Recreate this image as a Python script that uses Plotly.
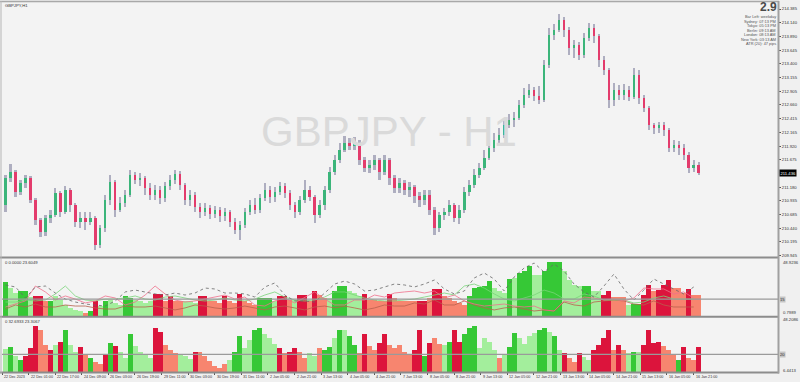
import plotly.graph_objects as go
from plotly.subplots import make_subplots

# ---------------- data (GBPJPY H1, 3-hour resampled) ----------------
opens = [210.86, 211.346, 211.454, 211.094, 211.256, 211.346, 210.95, 210.59, 210.374, 210.626,
         210.68, 211.076, 210.734, 211.13, 210.86, 210.554, 210.626, 210.554, 210.626, 210.14,
         210.446, 210.95, 211.274, 210.77, 210.896, 211.04, 211.4, 211.31, 211.346, 211.166,
         211.04, 211.13, 210.986, 211.202, 211.31, 211.418, 211.22, 210.95, 211.04, 210.824,
         210.734, 210.806, 210.698, 210.77, 210.662, 210.734, 210.554, 210.41, 210.5, 210.734,
         210.86, 210.77, 210.986, 211.13, 211.004, 211.094, 211.202, 211.076, 210.86, 210.734,
         210.95, 211.13, 211.004, 210.68, 210.86, 211.13, 211.454, 211.67, 211.85, 211.976,
         211.922, 211.976, 211.67, 211.526, 211.58, 211.67, 211.454, 211.67, 211.346, 211.166,
         211.256, 211.13, 211.184, 211.022, 210.95, 211.04, 210.77, 210.446, 210.68, 210.734,
         210.86, 210.626, 210.77, 211.094, 211.22, 211.4, 211.526, 211.706, 211.886, 212.03,
         212.12, 212.3, 212.39, 212.426, 212.66, 212.84, 212.93, 212.822, 212.75, 213.38,
         213.92, 214.01, 214.19, 214.01, 213.686, 213.74, 213.56, 213.866, 214.046, 213.902,
         213.47, 213.29, 212.75, 212.93, 212.84, 212.93, 212.804, 213.2, 212.786, 212.606,
         212.3, 212.246, 212.3, 212.21, 211.886, 211.94, 211.886, 211.76, 211.526, 211.58]
highs = [211.4, 211.598, 211.49, 211.31, 211.4, 211.382, 210.986, 210.626, 210.68, 210.77,
         211.166, 211.112, 211.202, 211.166, 210.896, 210.734, 210.734, 210.734, 210.662, 210.5,
         211.04, 211.4, 211.31, 211.004, 211.13, 211.49, 211.454, 211.436, 211.382, 211.256,
         211.22, 211.202, 211.274, 211.4, 211.49, 211.472, 211.256, 211.13, 211.094, 210.896,
         210.896, 210.86, 210.842, 210.824, 210.806, 210.77, 210.626, 210.572, 210.806, 210.95,
         210.986, 211.058, 211.256, 211.202, 211.184, 211.274, 211.256, 211.13, 210.914, 211.022,
         211.31, 211.202, 211.04, 210.95, 211.202, 211.544, 211.76, 211.976, 212.102, 212.066,
         212.084, 212.03, 211.724, 211.67, 211.76, 211.706, 211.76, 211.706, 211.4, 211.346,
         211.31, 211.274, 211.22, 211.094, 211.13, 211.13, 210.824, 210.734, 210.806, 210.95,
         210.896, 210.86, 211.184, 211.31, 211.508, 211.616, 211.85, 211.976, 212.156, 212.246,
         212.426, 212.498, 212.534, 212.75, 212.966, 213.038, 212.984, 213.002, 213.47, 214.046,
         214.118, 214.298, 214.244, 214.064, 213.83, 213.794, 213.956, 214.136, 214.118, 213.938,
         213.542, 213.326, 213.056, 213.02, 213.038, 213.002, 213.326, 213.29, 212.84, 212.642,
         212.336, 212.354, 212.354, 212.246, 212.03, 212.012, 211.958, 211.814, 211.67, 211.634]
lows = [210.734, 211.274, 211.004, 211.04, 211.166, 210.896, 210.5, 210.284, 210.302, 210.536,
        210.644, 210.644, 210.698, 210.734, 210.464, 210.446, 210.41, 210.5, 210.05, 210.086,
        210.374, 210.86, 210.644, 210.734, 210.824, 211.004, 211.238, 211.202, 211.04, 210.95,
        210.95, 210.878, 210.914, 211.13, 211.238, 211.13, 210.86, 210.842, 210.734, 210.626,
        210.662, 210.608, 210.626, 210.554, 210.572, 210.464, 210.338, 210.23, 210.446, 210.68,
        210.698, 210.716, 210.932, 210.896, 210.914, 211.04, 210.986, 210.77, 210.626, 210.68,
        210.896, 210.932, 210.536, 210.626, 210.77, 211.076, 211.4, 211.616, 211.814, 211.85,
        211.85, 211.58, 211.454, 211.436, 211.49, 211.31, 211.4, 211.22, 211.076, 211.076,
        211.04, 211.004, 210.896, 210.824, 210.86, 210.68, 210.32, 210.374, 210.59, 210.662,
        210.554, 210.518, 210.716, 211.022, 211.166, 211.346, 211.49, 211.67, 211.814, 211.94,
        212.066, 212.246, 212.264, 212.39, 212.606, 212.786, 212.732, 212.678, 212.714, 213.326,
        213.83, 213.974, 213.884, 213.56, 213.506, 213.47, 213.506, 213.812, 213.776, 213.344,
        213.2, 212.606, 212.642, 212.75, 212.75, 212.732, 212.768, 212.678, 212.534, 212.21,
        212.138, 212.156, 212.102, 211.814, 211.814, 211.76, 211.67, 211.436, 211.454, 211.4]
closes = [211.346, 211.454, 211.094, 211.256, 211.346, 210.95, 210.59, 210.374, 210.626, 210.68,
          211.076, 210.734, 211.13, 210.86, 210.554, 210.626, 210.554, 210.626, 210.14, 210.446,
          210.95, 211.274, 210.77, 210.896, 211.04, 211.4, 211.31, 211.346, 211.166, 211.04,
          211.13, 210.986, 211.202, 211.31, 211.418, 211.22, 210.95, 211.04, 210.824, 210.734,
          210.806, 210.698, 210.77, 210.662, 210.734, 210.554, 210.41, 210.5, 210.734, 210.86,
          210.77, 210.986, 211.13, 211.004, 211.094, 211.202, 211.076, 210.86, 210.734, 210.95,
          211.13, 211.004, 210.68, 210.86, 211.13, 211.454, 211.67, 211.85, 211.976, 211.922,
          211.976, 211.67, 211.526, 211.58, 211.67, 211.454, 211.67, 211.346, 211.166, 211.256,
          211.13, 211.184, 211.022, 210.95, 211.04, 210.77, 210.446, 210.68, 210.734, 210.86,
          210.626, 210.77, 211.094, 211.22, 211.4, 211.526, 211.706, 211.886, 212.03, 212.12,
          212.3, 212.39, 212.426, 212.66, 212.84, 212.93, 212.822, 212.75, 213.38, 213.92,
          214.01, 214.19, 214.01, 213.686, 213.74, 213.56, 213.866, 214.046, 213.902, 213.47,
          213.29, 212.75, 212.93, 212.84, 212.93, 212.804, 213.2, 212.786, 212.606, 212.3,
          212.246, 212.3, 212.21, 211.886, 211.94, 211.886, 211.76, 211.526, 211.58, 211.436]

price_ticks = [214.385, 214.140, 213.890, 213.645, 213.400, 213.155, 212.905, 212.660, 212.415,
               212.165, 211.920, 211.675, 211.180, 210.935, 210.685, 210.440, 210.195, 209.945]

time_labels = ["22 Dec 2023", "22 Dec 01:00", "22 Dec 17:00", "24 Dec 09:00", "26 Dec 03:00",
               "26 Dec 19:00", "29 Dec 11:00", "30 Dec 03:00", "30 Dec 19:00", "31 Dec 11:00",
               "2 Jan 05:00", "2 Jan 21:00", "3 Jan 13:00", "4 Jan 05:00", "4 Jan 21:00",
               "7 Jan 13:00", "8 Jan 05:00", "8 Jan 21:00", "9 Jan 13:00", "12 Jan 05:00",
               "12 Jan 21:00", "13 Jan 13:00", "14 Jan 05:00", "14 Jan 21:00", "15 Jan 13:00",
               "16 Jan 05:00", "16 Jan 21:00"]

# indicator 1 histogram (value + colour class)
ind1_vals = [29.5, 24.4, 20.2, 21.9, 21.9, 16.8, 17.7, 17.7, 13.5, 13.5,
             17.7, 14.3, 10.1, 7.6, 5.9, 5.0, 3.3, 5.0, 13.5, 9.2,
             13.5, 14.3, 11.8, 10.1, 17.7, 16.0, 14.3, 13.5, 11.8, 13.5,
             19.4, 19.4, 13.5, 17.7, 13.5, 13.5, 13.5, 13.5, 11.8, 17.7,
             17.7, 13.5, 13.5, 11.8, 17.7, 13.5, 11.8, 19.4, 13.5, 11.8,
             10.1, 16.0, 16.0, 16.0, 13.5, 17.7, 17.7, 14.3, 14.3, 18.5,
             18.5, 13.5, 21.9, 18.5, 16.0, 16.0, 21.9, 26.1, 26.1, 21.9,
             20.2, 17.7, 19.4, 14.3, 14.3, 13.5, 13.5, 19.4, 16.0, 13.5,
             13.5, 13.5, 13.5, 13.5, 13.5, 16.0, 23.6, 23.6, 17.7, 16.0,
             13.5, 11.8, 10.1, 17.7, 24.4, 25.3, 26.1, 30.3, 24.4, 21.9,
             20.2, 32.0, 32.9, 37.1, 38.8, 43.0, 35.4, 35.4, 38.8, 46.4,
             46.4, 46.4, 38.8, 31.2, 27.0, 26.1, 26.1, 26.1, 21.9, 21.9,
             18.5, 21.9, 16.8, 16.8, 16.8, 10.1, 10.9, 10.9, 18.5, 27.0,
             21.9, 22.7, 27.0, 31.2, 24.4, 24.4, 20.2, 23.6, 18.5, 18.5]
ind1_class = ("GggGGgRRrG" "ggggggrGRg" "GgggGGgggg" "RRrRrrgggR" "RrrrRrrRrr"
              "rGGGgRRrgR" "RrRrrgGGGg" "ggRrrrrRrr" "rrrRRrRRrr" "rrrGGGGGgg"
              "gGgGGGggGG" "GGggggGGgg" "RRrrrgGGRR" "rRRRrrrRrr")
ind1_dotted = [27.0, 25.3, 16.0, 25.3, 26.1, 20.2, 15.1, 12.6, 10.9, 10.1,
               9.2, 13.5, 21.1, 22.7, 21.1, 19.4, 18.5, 20.2, 18.5, 20.2,
               24.4, 23.6, 20.2, 20.2, 19.4, 16.8, 25.3, 28.7, 18.5, 13.5,
               13.5, 12.6, 20.2, 27.8, 30.3, 27.8, 21.9, 22.7, 25.3, 27.8,
               27.0, 25.3, 27.8, 31.2, 23.6, 19.4, 21.9, 32.9, 37.1, 32.0,
               21.9, 33.7, 41.3, 45.5, 37.9, 44.7, 38.8, 27.8, 21.1, 16.8,
               26.1, 36.2, 23.6, 14.3, 22.7, 32.0, 27.8, 23.6, 19.4, 25.3]
ind1_red = [8.4, 10.9, 13.5, 26.1, 21.1, 14.3, 17.7, 15.1, 11.8, 13.5,
            17.7, 16.0, 10.1, 12.6, 18.5, 26.1, 19.4, 14.3, 12.6, 13.5,
            15.1, 16.8, 18.5, 15.1, 16.8, 10.1, 9.2, 13.5, 16.0, 11.8,
            16.8, 21.1, 15.1, 10.1, 10.1, 14.3, 14.3, 18.5, 16.8, 20.2,
            21.1, 21.9, 20.2, 21.9, 16.0, 18.5, 13.5, 10.9, 9.2, 10.1,
            10.9, 9.2, 8.4, 9.2, 5.9, 5.0, 13.5, 11.8, 16.8, 16.0,
            14.3, 15.1, 13.5, 16.0, 24.4, 23.6, 23.6, 19.4, 21.1, 16.0]
ind1_green = [12.6, 12.6, 14.3, 13.5, 14.3, 19.4, 26.1, 17.7, 14.3, 13.5,
              15.1, 15.1, 16.0, 17.7, 15.1, 14.3, 16.8, 17.7, 16.0, 14.3,
              13.5, 14.3, 16.0, 14.3, 13.5, 15.1, 18.5, 21.1, 16.8, 14.3,
              13.5, 14.3, 16.8, 21.1, 21.1, 18.5, 16.0, 14.3, 13.5, 13.5,
              14.3, 15.1, 16.8, 18.5, 20.2, 18.5, 26.1, 27.8, 24.4, 19.4,
              15.1, 13.5, 16.0, 18.5, 22.7, 20.2, 15.1, 15.1, 19.4, 17.7,
              14.3, 14.3, 14.3, 11.8, 12.6, 16.0, 17.7, 15.1, 15.1, 15.1]
ind1_brown = [6.7, 10.1, 8.4, 10.9, 8.4, 8.4, 10.1, 9.2, 9.2, 7.6,
              6.7, 6.7, 9.2, 8.4, 8.4, 9.2, 7.6, 5.9, 7.6, 10.1,
              9.2, 7.6, 6.7, 7.6, 9.2, 7.6, 5.9, 8.4, 9.2, 7.6,
              5.9, 8.4, 9.2, 7.6, 9.2, 7.6, 5.9, 7.6, 10.1, 9.2,
              9.2, 11.8, 10.9, 14.3, 10.1, 10.1, 13.5, 10.1, 7.6, 5.9,
              7.6, 8.4, 6.7, 5.0, 5.9, 5.0, 12.6, 10.1, 9.2, 12.6,
              13.5, 14.3, 13.5, 10.9, 10.1, 13.5, 10.1, 8.4, 8.4, 8.4]

# indicator 2 histogram
ind2_vals = [24.2, 25.8, 18.8, 15.7, 18.8, 25.0, 42.0, 38.9, 27.3, 23.5,
             27.3, 29.6, 38.9, 27.3, 21.9, 25.8, 19.6, 17.3, 14.2, 12.6,
             19.6, 28.9, 26.5, 21.9, 17.3, 35.8, 26.5, 21.9, 19.6, 17.3,
             40.5, 37.4, 27.3, 23.5, 21.1, 20.4, 18.8, 16.5, 21.9, 21.9,
             18.8, 14.9, 11.1, 9.5, 12.6, 15.7, 21.9, 34.3, 25.0, 31.2,
             38.9, 40.5, 35.8, 32.7, 28.1, 25.0, 21.1, 21.9, 25.0, 21.9,
             17.3, 21.1, 18.8, 25.0, 23.5, 25.8, 32.7, 38.9, 38.9, 34.3,
             27.3, 21.1, 35.8, 26.5, 23.5, 28.9, 35.8, 27.3, 25.0, 27.3,
             21.9, 20.4, 23.5, 38.9, 18.8, 28.9, 32.7, 28.1, 27.3, 29.6,
             38.9, 29.6, 35.8, 40.5, 42.0, 25.0, 32.7, 29.6, 23.5, 17.3,
             19.6, 25.8, 36.6, 32.7, 28.1, 34.3, 36.6, 38.9, 40.5, 37.4,
             34.3, 23.5, 21.1, 17.3, 14.2, 21.1, 18.0, 15.7, 23.5, 27.3,
             32.7, 38.9, 23.5, 27.3, 23.5, 21.1, 21.9, 21.9, 27.3, 38.9,
             28.9, 29.6, 26.5, 23.5, 20.4, 15.7, 25.8, 17.3, 15.7, 25.8]
ind2_class = ("gGgGRRRrrR" "gRGggRrGrr" "RGRggGgggg" "RRrrrgggRr" "rrrrrgGGgg"
              "GGgggRrRRr" "rggrGGgGgG" "GrRrrRRrrr" "rrRRGRrrgG" "RRGGGggggr"
              "gGGggggGGg" "GgRrrRggRR" "RRrRrgGgRR" "RRrrrGRrrR")

ind1_title = "0 0.0000 23.6049"
ind2_title = "0 32.6933 23.3067"
ind1_scale = ["48.9236", "0.7989"]
ind2_scale = ["48.2086", "6.4413"]
ind1_level = 15
ind2_level = 20
info_lines = ["Bar Left: weekday", "Sydney: 07:13 PM", "Tokyo: 05:13 PM", "Berlin: 09:13 AM",
              "London: 08:13 AM", "New York: 03:13 AM", "ATR (20): 47 pips"]
spread_text = "2.9"

# ---------------- geometry helpers ----------------
W, H = 800, 382
ML, MR, MT, MB = 2, 20, 3, 10
PW, PH = W - ML - MR, H - MT - MB


def pyp(Y):
    return (H - MB - Y) / PH


def pxp(X):
    return (X - ML) / PW


n = len(closes)
idx = list(range(n))
line_x = idx[::2]
XR = [-0.7, -0.7 + PW / 5.0]

col_map = {"G": "#36c836", "g": "#a3ee9c", "R": "#dc143c", "r": "#f7856f"}
UP, DN, WICK = "#3bb57a", "#e33b6c", "#aeaec0"

fig = make_subplots(rows=3, cols=1, shared_xaxes=False, vertical_spacing=0.0)

# candles: wicks + bodies
fig.add_trace(go.Bar(x=idx, y=[h - l for h, l in zip(highs, lows)], base=lows, width=0.45,
                     marker=dict(color=WICK, line_width=0), hoverinfo="skip"), row=1, col=1)
fig.add_trace(go.Bar(x=idx, y=[max(abs(c - o), 0.012) for o, c in zip(opens, closes)],
                     base=[min(o, c) for o, c in zip(opens, closes)], width=0.5,
                     marker=dict(color=[UP if c >= o else DN for o, c in zip(opens, closes)], line_width=0)),
              row=1, col=1)

# indicator 1
fig.add_trace(go.Bar(x=idx, y=ind1_vals, base=0, width=1.0,
                     marker=dict(color=[col_map[c] for c in ind1_class], line_width=0)), row=2, col=1)
fig.add_trace(go.Scatter(x=line_x, y=ind1_brown, mode="lines", line=dict(color="#b8604c", width=0.8)), row=2, col=1)
fig.add_trace(go.Scatter(x=line_x, y=ind1_green, mode="lines", line=dict(color="#78d478", width=0.8)), row=2, col=1)
fig.add_trace(go.Scatter(x=line_x, y=ind1_red, mode="lines", line=dict(color="#f0708c", width=0.8)), row=2, col=1)
fig.add_trace(go.Scatter(x=line_x, y=ind1_dotted, mode="lines", line=dict(color="#666666", width=0.8, dash="dot")), row=2, col=1)

# indicator 2
fig.add_trace(go.Bar(x=idx, y=ind2_vals, base=0, width=1.0,
                     marker=dict(color=[col_map[c] for c in ind2_class], line_width=0)), row=3, col=1)

BG = "#f3f3f3"
fig.update_layout(
    width=W, height=H, margin=dict(l=ML, r=MR, t=MT, b=MB),
    paper_bgcolor="#f0f0f0", plot_bgcolor=BG, showlegend=False,
    barmode="overlay", bargap=0,
    font=dict(family="Liberation Sans, Arial, sans-serif", size=5, color="#333333"),
)
for ax in ["xaxis", "xaxis2", "xaxis3"]:
    fig.layout[ax].update(range=XR, showgrid=False, zeroline=False, showticklabels=False,
                          domain=[0, 1])
tick_pos = [-0.7 + k * 16 / 3 for k in range(len(time_labels))]
fig.layout.xaxis3.update(tickmode="array", tickvals=tick_pos, ticks="outside", ticklen=2,
                         tickcolor="#555555", tickwidth=0.6)

fig.layout.yaxis.update(domain=[pyp(257), pyp(3)], range=[209.925, 214.493], side="right",
                        tickmode="array", tickvals=price_ticks,
                        ticktext=["%.3f" % v for v in price_ticks],
                        ticks="outside", ticklen=2, tickcolor="#555555", tickwidth=0.6,
                        tickfont=dict(size=4.2, color="#333333"),
                        showgrid=False, zeroline=False)
fig.layout.yaxis2.update(domain=[pyp(316), pyp(259)], range=[0.79, 48.93], showgrid=False,
                         zeroline=False, showticklabels=False)
fig.layout.yaxis3.update(domain=[pyp(372), pyp(318)], range=[6.43, 48.22], showgrid=False,
                         zeroline=False, showticklabels=False)

# frame lines
LC = "#8c8c8c"
shapes = []
for Y in (257.5, 316.8, 372.5):
    shapes.append(dict(type="line", xref="paper", yref="paper", x0=pxp(0), x1=pxp(781),
                       y0=pyp(Y), y1=pyp(Y), line=dict(color=LC, width=2)))
shapes.append(dict(type="line", xref="paper", yref="paper", x0=pxp(0), x1=pxp(781),
                   y0=pyp(1.5), y1=pyp(1.5), line=dict(color="#a8a8a8", width=1.5)))
shapes.append(dict(type="line", xref="paper", yref="paper", x0=pxp(780.5), x1=pxp(780.5),
                   y0=pyp(373.5), y1=pyp(1), line=dict(color="#a0a0a0", width=2)))
shapes.append(dict(type="line", xref="paper", yref="paper", x0=pxp(1), x1=pxp(1),
                   y0=pyp(373), y1=pyp(1), line=dict(color="#b8b8b8", width=1)))
# level lines
shapes.append(dict(type="line", xref="paper", yref="y2", x0=0, x1=1, y0=ind1_level, y1=ind1_level,
                   line=dict(color="#9a9a9a", width=1.3)))
shapes.append(dict(type="line", xref="paper", yref="y3", x0=0, x1=1, y0=ind2_level, y1=ind2_level,
                   line=dict(color="#9a9a9a", width=1.3)))
fig.update_layout(shapes=shapes)

ann = []
SMALL = 4.2
ann.append(dict(text="GBPJPY - H1", xref="paper", yref="paper", x=pxp(390), y=pyp(131),
                showarrow=False, font=dict(size=42, color="#dadada")))
ann.append(dict(text="GBPJPY,H1", xref="paper", yref="paper", x=pxp(3), y=pyp(5.5),
                xanchor="left", yanchor="middle", showarrow=False, font=dict(size=SMALL, color="#333")))
ann.append(dict(text="<b>%s</b>" % spread_text, xref="paper", yref="paper", x=pxp(779.5), y=pyp(7.0),
                xanchor="right", yanchor="middle", showarrow=False, borderpad=0,
                font=dict(size=12, color="#4a4a4a")))
for k, t in enumerate(info_lines):
    ann.append(dict(text=t, xref="paper", yref="paper", x=pxp(779), y=pyp(16.8 + 4.5 * k),
                    xanchor="right", yanchor="middle", showarrow=False, borderpad=0,
                    font=dict(size=3.9, color="#555")))
ann.append(dict(text=ind1_title, xref="paper", yref="paper", x=pxp(3), y=pyp(262.5),
                xanchor="left", yanchor="middle", showarrow=False, font=dict(size=SMALL, color="#333")))
ann.append(dict(text=ind2_title, xref="paper", yref="paper", x=pxp(3), y=pyp(321),
                xanchor="left", yanchor="middle", showarrow=False, font=dict(size=SMALL, color="#333")))
for txt, Y in zip(ind1_scale + ind2_scale, (262, 312.5, 319.5, 370)):
    ann.append(dict(text=txt, xref="paper", yref="paper", x=pxp(783), y=pyp(Y),
                    xanchor="left", yanchor="middle", showarrow=False, font=dict(size=SMALL, color="#333")))
for lv, yr in ((ind1_level, "y2"), (ind2_level, "y3")):
    ann.append(dict(text=str(lv), xref="paper", yref=yr, x=pxp(781.5), y=lv, xanchor="left",
                    yanchor="middle", showarrow=False, bgcolor="#c4c4c4", borderpad=0,
                    font=dict(size=SMALL, color="#333")))
ann.append(dict(text="%.3f" % closes[-1], xref="paper", yref="y", x=pxp(781), y=closes[-1],
                xanchor="left", yanchor="middle", showarrow=False, bgcolor="#000000", borderpad=0.5,
                font=dict(size=SMALL, color="#ffffff")))
for xp, t in zip(tick_pos, time_labels):
    ann.append(dict(text=t, xref="x3", yref="paper", x=xp, y=pyp(377.5), xanchor="left",
                    yanchor="middle", showarrow=False, font=dict(size=3.7, color="#333")))
fig.update_layout(annotations=ann)

fig.write_html("out.html", config={"displayModeBar": False},
               post_script="document.body.style.margin='0px';")
